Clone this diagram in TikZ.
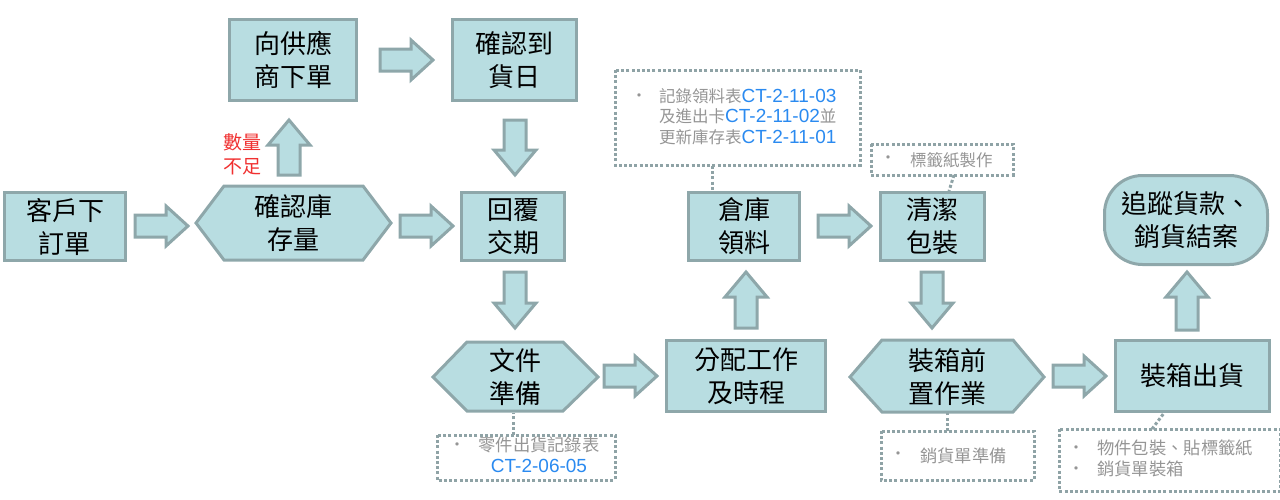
\documentclass[tikz,border=0pt]{standalone}
\usepackage{fontspec}
\setmainfont{Noto Sans CJK TC}
\newfontfamily\latinf{Liberation Sans}
\definecolor{boxfill}{HTML}{B8DDE1}
\definecolor{boxline}{HTML}{8EA7AA}
\definecolor{dotline}{HTML}{8FA3A6}
\definecolor{graytxt}{HTML}{959595}
\definecolor{bluetxt}{HTML}{2A8AF0}
\definecolor{redtxt}{HTML}{F03030}
\newcommand\rblk[3]{% x0 x1 yc
  \draw[blk] (#1,#3-11) -- (#2-22,#3-11) -- (#2-22,#3-20) -- (#2,#3) -- (#2-22,#3+20) -- (#2-22,#3+11) -- (#1,#3+11) -- cycle;}
\newcommand\ublk[3]{% xc ytop ybot
  \draw[blk] (#1-11,#3) -- (#1-11,#2+25) -- (#1-21,#2+25) -- (#1,#2) -- (#1+21,#2+25) -- (#1+11,#2+25) -- (#1+11,#3) -- cycle;}
\newcommand\dblk[3]{% xc ytop ybot
  \draw[blk] (#1-11,#2) -- (#1-11,#3-25) -- (#1-21,#3-25) -- (#1,#3) -- (#1+21,#3-25) -- (#1+11,#3-25) -- (#1+11,#2) -- cycle;}
\newcommand\code[1]{{\latinf\fontsize{19}{20.5}\selectfont\color{bluetxt}#1}}
\tikzset{
  blk/.style={fill=boxfill,draw=boxline,line width=3pt,line join=miter},
  procbox/.style={fill=boxfill,draw=boxline,line width=3pt,align=center,inner sep=0pt,
    font=\fontsize{26}{33}\selectfont},
  hexbox/.style={fill=boxfill,draw=boxline,line width=3pt},
  lbl/.style={align=center,font=\fontsize{26}{33}\selectfont,inner sep=0pt},
  notebox/.style={draw=dotline,line width=3pt,dash pattern=on 3pt off 2.2pt},
  noteline/.style={draw=dotline,line width=3pt,dash pattern=on 3pt off 2.2pt},
  bul/.style={text=graytxt,font=\fontsize{16}{20}\selectfont,inner sep=0pt},
  ntxt/.style={text=graytxt,font=\fontsize{16.5}{20.5}\selectfont,inner sep=0pt,anchor=north west,align=left},
}
\begin{document}
\begin{tikzpicture}[x=1pt,y=-1pt]
\useasboundingbox (0,0) rectangle (1280,499);
% rectangles
\node[procbox,minimum width=121pt,minimum height=68pt] (order) at (65,226.5) {客戶下\\訂單};
\node[procbox,minimum width=127pt,minimum height=81pt] (supp) at (293,60) {向供應\\商下單};
\node[procbox,minimum width=124pt,minimum height=81pt] (arr) at (514.5,60) {確認到\\貨日};
\node[procbox,minimum width=103pt,minimum height=68pt] (reply) at (513,226.5) {回覆\\交期};
\node[procbox,minimum width=159pt,minimum height=71pt] (alloc) at (746,376) {分配工作\\及時程};
\node[procbox,minimum width=111pt,minimum height=68pt] (pick) at (744,226.5) {倉庫\\領料};
\node[procbox,minimum width=104pt,minimum height=68pt] (clean) at (932.5,226.5) {清潔\\包裝};
\node[procbox,minimum width=154pt,minimum height=71pt] (ship) at (1192.5,376) {裝箱出貨};
\node[procbox,rounded corners=38pt,minimum width=163pt,minimum height=89pt] (track) at (1186,220) {追蹤貨款、\\銷貨結案};
% hexagons
\draw[hexbox] (196,223) -- (224,186) -- (363,186) -- (391,223) -- (363,260) -- (224,260) -- cycle;
\node[lbl] (stock) at (293,223) {確認庫\\存量};
\draw[hexbox] (433,377) -- (467,342) -- (563,342) -- (598,377) -- (563,411) -- (467,411) -- cycle;
\node[lbl] (docs) at (515,377) {文件\\準備};
\draw[hexbox] (850,377) -- (882,340) -- (1013,340) -- (1044,377) -- (1013,412) -- (882,412) -- cycle;
\node[lbl] (pre) at (947,377) {裝箱前\\置作業};
% red label
\node[text=redtxt,font=\fontsize{19}{24}\selectfont,align=left,inner sep=0pt] (short) at (242,154) {數量\\不足};
% block arrows
\rblk{135}{188}{226}
\rblk{400}{453}{226}
\rblk{380}{433}{60}
\rblk{604}{657}{376}
\rblk{818}{871}{226}
\rblk{1053}{1106}{376}
\ublk{289}{120}{175}
\dblk{515}{120}{175}
\dblk{515}{272}{328}
\ublk{746}{272}{328}
\dblk{932}{272}{328}
\ublk{1187}{272}{330}
% note boxes
\draw[notebox] (615,70) rectangle (860,165);
\node[bul] (b1) at (639,98) {•};
\node[ntxt] (n1) at (659,88) {記錄領料表\code{CT-2-11-03}\\及進出卡\code{CT-2-11-02}並\\更新庫存表\code{CT-2-11-01}};
\coordinate (n1b) at (712,166);
\draw[noteline] (n1b) -- (pick.north -| n1b);

\draw[notebox] (871,144) rectangle (1013,175);
\node[bul] (b2) at (888,160) {•};
\node[ntxt,anchor=west] (n2) at (910,160) {標籤紙製作};
\coordinate (n2b) at (954,175);
\draw[noteline] (n2b) -- (949,191);

\draw[notebox] (437,435) rectangle (615,480);
\node[bul] (b3) at (457,447) {•};
\node[ntxt,anchor=north,align=center,font=\fontsize{17.3}{20.5}\selectfont] (n3) at (539,437) {零件出貨記錄表\\\code{CT-2-06-05}};
\coordinate (n3t) at (513,435);
\draw[noteline] (n3t) -- (513,413);

\draw[notebox] (881,431) rectangle (1034,480);
\node[bul] (b4) at (898,456) {•};
\node[ntxt,anchor=west,font=\fontsize{17.3}{20.5}\selectfont] (n4) at (920,456) {銷貨單準備};
\coordinate (n4t) at (947,431);
\draw[noteline] (n4t) -- (947,413);

\draw[notebox] (1059,429) rectangle (1280,491);
\node[bul] (b5) at (1076,450) {•};
\node[bul] (b6) at (1076,471) {•};
\node[ntxt,font=\fontsize{17.3}{21}\selectfont] (n5) at (1097,440) {物件包裝、貼標籤紙\\銷貨單裝箱};
\coordinate (n5t) at (1152,429);
\draw[noteline] (n5t) -- (1164,413);
\end{tikzpicture}
\end{document}
